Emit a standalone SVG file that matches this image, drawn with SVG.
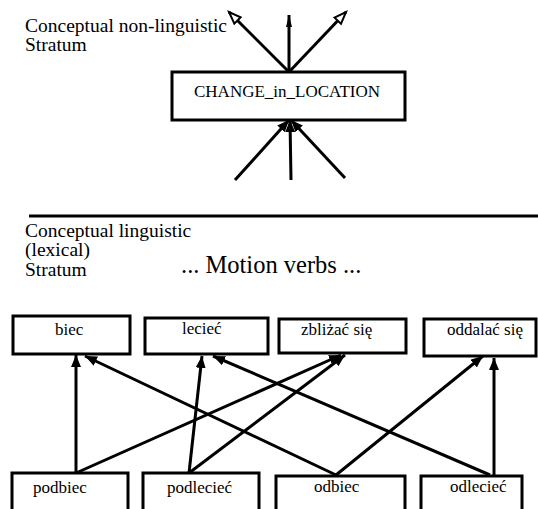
<svg xmlns="http://www.w3.org/2000/svg" width="538" height="509" viewBox="0 0 538 509">
<style>
.lab{font-size:19.5px}
.node{font-size:17px}
.big{font-size:24.5px}
rect{fill:#fff;stroke:#000;stroke-width:3}
.c line{stroke:#000;stroke-width:3}
</style>
<defs>
<marker id="fa" markerUnits="userSpaceOnUse" markerWidth="14" markerHeight="12" refX="12" refY="5" orient="auto"><path d="M0,0 L12,5 L0,10 z" fill="#000"/></marker>
<marker id="fn" markerUnits="userSpaceOnUse" markerWidth="14" markerHeight="10" refX="12" refY="3.5" orient="auto"><path d="M0,0.5 L12,3.5 L0,6.5 z" fill="#000"/></marker>
<marker id="oa" markerUnits="userSpaceOnUse" markerWidth="16" markerHeight="14" refX="13" refY="6" orient="auto"><path d="M1,1.5 L13,6 L1,10.5 z" fill="#fff" stroke="#000" stroke-width="2"/></marker>
</defs>
<rect width="538" height="509" style="fill:#fff;stroke:none"/>
<g font-family="'Liberation Serif', Tinos, 'Times New Roman', Times, 'DejaVu Serif', serif" fill="#000">
<text class="lab" x="25" y="32">Conceptual non-linguistic</text>
<text class="lab" x="25" y="51">Stratum</text>
<text class="lab" x="25" y="237">Conceptual linguistic</text>
<text class="lab" x="25" y="256">(lexical)</text>
<text class="lab" x="25" y="276">Stratum</text>
<text class="big" x="181" y="273">... Motion verbs ...</text>
<g id="change"><rect x="172" y="72" width="233" height="48"/><text class="node" x="194" y="97">CHANGE_in_LOCATION</text></g>
<g id="biec"><rect x="13" y="316" width="117" height="38"/><text class="node" x="55" y="335">biec</text></g>
<g id="leciec"><rect x="145" y="318" width="123" height="36"/><text class="node" x="182" y="334">lecieć</text></g>
<g id="zblizac"><rect x="279" y="319" width="127" height="34"/><text class="node" x="301" y="335">zbliżać się</text></g>
<g id="oddalac"><rect x="424" y="319" width="112" height="37"/><text class="node" x="447" y="335">oddalać się</text></g>
<g id="podbiec"><rect x="12" y="473" width="116" height="50"/><text class="node" x="33" y="493">podbiec</text></g>
<g id="podleciec"><rect x="143" y="473" width="116" height="50"/><text class="node" x="167" y="493">podlecieć</text></g>
<g id="odbiec"><rect x="276" y="476" width="129" height="50"/><text class="node" x="314" y="492">odbiec</text></g>
<g id="odleciec"><rect x="421" y="476" width="101" height="50"/><text class="node" x="450" y="492">odlecieć</text></g>
</g>
<line x1="29" y1="216" x2="538" y2="216" stroke="#000" stroke-width="3"/>
<g class="c" id="connectors">
<line x1="289" y1="72" x2="229" y2="12" marker-end="url(#oa)"/>
<line x1="289" y1="72" x2="289" y2="15" marker-end="url(#fn)"/>
<line x1="289" y1="72" x2="346" y2="12" marker-end="url(#oa)"/>
<line x1="235" y1="180" x2="289" y2="120" marker-end="url(#fa)"/>
<line x1="291" y1="180" x2="290" y2="120" marker-end="url(#fa)"/>
<line x1="345" y1="178" x2="291" y2="120" marker-end="url(#fa)"/>
<line x1="76" y1="473" x2="76" y2="355" marker-end="url(#fa)"/>
<line x1="76" y1="473" x2="341" y2="355" marker-end="url(#fa)"/>
<line x1="189" y1="473" x2="202" y2="356" marker-end="url(#fa)"/>
<line x1="189" y1="473" x2="345" y2="355" marker-end="url(#fa)"/>
<line x1="336" y1="475" x2="85" y2="356" marker-end="url(#fa)"/>
<line x1="336" y1="475" x2="483" y2="356" marker-end="url(#fa)"/>
<line x1="490" y1="475" x2="213" y2="356" marker-end="url(#fa)"/>
<line x1="494" y1="475" x2="494" y2="358" marker-end="url(#fa)"/>
</g>
</svg>
